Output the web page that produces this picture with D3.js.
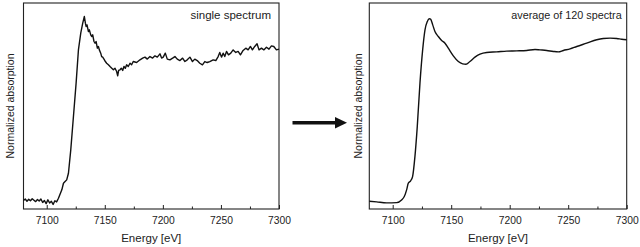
<!DOCTYPE html>
<html>
<head>
<meta charset="utf-8">
<script src="https://cdn.jsdelivr.net/npm/d3@7"></script>
<style>
  body { margin: 0; background: #fff; }
  text { font-family: "Liberation Sans", Arial, sans-serif; fill: #222; }
</style>
</head>
<body>
<div id="chart"></div>
<script>
// single spectrum (energy in eV, normalized absorption)
var singleE = [7080,7081.5,7083,7084.5,7086,7087.5,7089,7090.5,7092,7093.5,7095,7096.5,7098,7099.5,7101,7102.5,7104,7105.5,7107,7108.5,
  7110.1,7113,7114.4,7115.8,7117.2,7118.7,7120.7,7123,7125.3,7127.3,7129.3,7131,7132.4,7133.3,7133.9,7134.7,7135.9,7136.7,7137.9,7138.7,
  7139.6,7140.7,7141.6,7142.5,7143.6,7144.5,7145.3,7146.5,7147.3,7148.2,7149.3,7150.5,7151.6,7153.1,7154.5,7156,7157.4,7158.8,7160.2,7161.1,
  7161.9,7163.1,7164.2,7165.4,7166.5,7167.7,7168.8,7170.2,7171.7,7173.1,7174.5,7177.4,7180.3,7182.6,7184.6,7186.6,7188.9,7191.2,7193.2,7195.2,
  7197.5,7198.9,7200.3,7202.1,7203.8,7206.1,7208.4,7210.4,7212.4,7214.7,7217,7219,7221,7223.3,7225.5,7227.5,7229.6,7231.8,7234.1,7236.1,
  7238.2,7240.4,7243.3,7245.6,7247.6,7249,7250.5,7251.9,7253.3,7254.8,7256.5,7258.5,7260.5,7262.8,7264.8,7266.8,7269.1,7271.4,7273.4,7275.4,
  7277.1,7279.1,7281.1,7282.8,7284.9,7286.9,7289.2,7291.4,7293.5,7295.5,7297.8,7300];
var singleMu = [0.010,0.020,0.005,0.018,0.008,0.022,0.012,0.002,0.017,0.006,0.020,-0.004,0.010,-0.012,0.015,-0.008,0.004,-0.018,0.008,0.000,
  0.026,0.085,0.131,0.143,0.155,0.202,0.366,0.601,0.836,1.070,1.188,1.258,1.305,1.258,1.235,1.246,1.199,1.211,1.176,1.164,
  1.176,1.129,1.117,1.129,1.082,1.094,1.070,1.047,1.023,1.019,1.005,0.988,0.976,0.965,0.953,0.941,0.930,0.941,0.918,0.887,
  0.925,0.930,0.941,0.925,0.953,0.941,0.965,0.953,0.976,0.965,0.988,0.981,1.000,1.012,1.019,1.005,1.023,1.012,1.028,1.019,
  1.042,1.012,1.019,1.047,1.005,1.000,1.012,1.023,1.005,0.995,1.012,0.988,1.000,1.019,0.988,1.005,0.995,0.976,0.965,0.988,
  0.981,0.988,1.000,0.995,1.023,1.052,1.019,1.047,1.023,1.059,1.035,1.047,1.070,1.052,1.059,1.035,1.066,1.082,1.070,1.094,
  1.070,1.094,1.113,1.070,1.082,1.070,1.089,1.075,1.098,1.094,1.070,1.075];

// average of 120 spectra
var avgE = [7080,7086.3,7094.8,7103.4,7107.6,7109.9,7111.9,7113.3,7115.3,7117,7119,7121,7123.3,7125.6,7127.6,7129.6,7131.3,7132.4,7134.2,7136.1,
  7139,7141.8,7144.7,7147.5,7151.8,7156.1,7159.8,7162.6,7166,7170.3,7174.6,7180.3,7188.9,7197.4,7206,7214.5,7221.6,7225.9,7231.6,7237.3,
  7241.6,7245.9,7251.6,7257.3,7265.8,7274.4,7280,7285.8,7291.5,7295.7,7300];
var avgMu = [0.005,0.000,-0.007,-0.005,0.014,0.038,0.085,0.131,0.148,0.178,0.319,0.530,0.836,1.070,1.211,1.270,1.289,1.286,1.246,1.199,
  1.164,1.136,1.117,1.082,1.028,0.988,0.972,0.969,0.988,1.019,1.040,1.052,1.056,1.061,1.063,1.066,1.073,1.070,1.066,1.059,
  1.056,1.066,1.077,1.094,1.117,1.141,1.150,1.153,1.150,1.145,1.141];

var majorTicks = [7100, 7150, 7200, 7250, 7300];
var minorTicks = [7125, 7175, 7225, 7275];

function buildchart(){
    var plotTop = 3, plotBottom = 209;

    var svg = d3.select("#chart").append("svg")
        .attr("width", 640).attr("height", 247);

    function panel(x0, x1, E, Mu, label, labelSize, labelPad, ylabX, curve) {
        var x = d3.scaleLinear().domain([7080, 7300]).range([x0, x1]);
        var y = d3.scaleLinear().domain([-0.05, 1.4]).range([plotBottom, plotTop]);
        var g = svg.append("g");

        g.append("g")
            .attr("transform", "translate(0," + plotBottom + ")")
            .call(d3.axisBottom(x).tickValues(majorTicks).tickSize(-4).tickPadding(8).tickFormat(d3.format("d")))
            .call(function(a){
                a.select(".domain").remove();
                a.selectAll("line").attr("stroke", "#222");
                a.selectAll("text").attr("font-size", 10.3).attr("font-family", "Liberation Sans, Arial, sans-serif").attr("fill", "#222");
            });
        g.append("g")
            .attr("transform", "translate(0," + plotBottom + ")")
            .call(d3.axisBottom(x).tickValues(minorTicks).tickSize(-2.5).tickFormat(""))
            .call(function(a){
                a.select(".domain").remove();
                a.selectAll("line").attr("stroke", "#222");
            });

        g.append("rect")
            .attr("x", x0).attr("y", plotTop)
            .attr("width", x1 - x0).attr("height", plotBottom - plotTop)
            .attr("fill", "none").attr("stroke", "#222").attr("stroke-width", 1.1);

        var pts = E.map(function(e, i){ return [e, Mu[i]]; });
        g.append("path")
            .datum(pts)
            .attr("fill", "none")
            .attr("stroke", "#111")
            .attr("stroke-width", 1.4)
            .attr("stroke-linejoin", "round")
            .attr("d", d3.line().curve(curve)
                .x(function(d){ return x(d[0]); })
                .y(function(d){ return y(d[1]); }));

        g.append("text")
            .attr("x", x1 - labelPad).attr("y", 19)
            .attr("text-anchor", "end")
            .attr("font-size", labelSize)
            .text(label);

        g.append("text")
            .attr("x", (x0 + x1) / 2).attr("y", 242)
            .attr("text-anchor", "middle")
            .attr("font-size", 11.5)
            .text("Energy [eV]");

        g.append("text")
            .attr("transform", "translate(" + ylabX + "," + ((plotTop + plotBottom) / 2) + ") rotate(-90)")
            .attr("text-anchor", "middle")
            .attr("font-size", 10.5)
            .text("Normalized absorption");
    }

    panel(23.5, 279, singleE, singleMu, "single spectrum", 11.5, 8, 13.5, d3.curveLinear);
    panel(369.3, 626.7, avgE, avgMu, "average of 120 spectra", 10.8, 5, 361.5, d3.curveMonotoneX);

    // arrow between panels
    svg.append("line")
        .attr("x1", 292.5).attr("x2", 337).attr("y1", 122.7).attr("y2", 122.7)
        .attr("stroke", "#111").attr("stroke-width", 3.5);
    svg.append("path")
        .attr("d", "M335,117 L347,122.7 L335,128.4 Z")
        .attr("fill", "#111");
}

buildchart();
</script>
</body>
</html>
